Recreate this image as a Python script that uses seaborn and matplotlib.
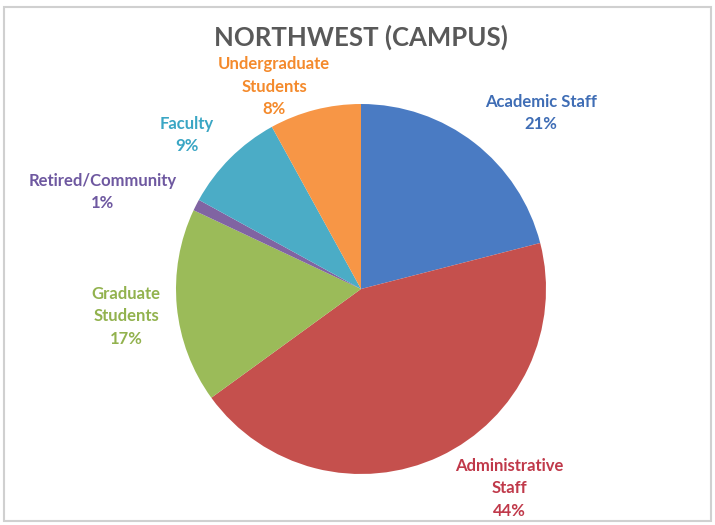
import matplotlib
matplotlib.use("Agg")
import matplotlib.pyplot as plt
import seaborn as sns
from matplotlib.patches import Rectangle

sns.set_theme(style="white")
plt.rcParams['font.family'] = ['Lato', 'DejaVu Sans']

# Data
categories = ["Academic Staff", "Administrative\nStaff", "Graduate\nStudents",
              "Retired/Community", "Faculty", "Undergraduate\nStudents"]
values = [21, 44, 17, 1, 9, 8]
pct_labels = ["21%", "44%", "17%", "1%", "9%", "8%"]
colors = ["#4A7BC3", "#C5504D", "#9BBB59", "#8064A2", "#4BACC6", "#F79646"]
label_colors = ["#3F6DB5", "#C0394A", "#92B24E", "#6E58A0", "#3AA6C4", "#F48A2C"]

# Layout: label positions (in pie radius units)
label_pos = [(0.973, 0.951), (0.80, -1.076), (-1.27, -0.146),
             (-1.395, 0.524), (-0.94, 0.832), (-0.47, 1.092)]

fig = plt.figure(figsize=(7.15, 5.25), dpi=100)
fig.patch.set_facecolor("white")

cx, cy, r = 361, 525 - 289, 185
ax = fig.add_axes([(cx - r) / 715, (cy - r) / 525, 2 * r / 715, 2 * r / 525])
ax.pie(values, colors=colors, startangle=90, counterclock=False, radius=1,
       wedgeprops=dict(edgecolor="none"))
ax.set_xlim(-1, 1)
ax.set_ylim(-1, 1)
ax.set_aspect("equal")
ax.axis("off")

for cat, pct, (lx, ly), c in zip(categories, pct_labels, label_pos, label_colors):
    ax.text(lx, ly, f"{cat}\n{pct}", ha="center", va="center", multialignment="center",
            color=c, fontsize=12, fontweight="bold", linespacing=1.5, clip_on=False)

fig.text(361 / 715, 1 - 37 / 525, "NORTHWEST (CAMPUS)", ha="center", va="center",
         fontsize=18.5, fontweight="bold", color="#595959")

fig.patches.append(Rectangle((4 / 715, 4 / 525), 707 / 715, 514 / 525, transform=fig.transFigure,
                             fill=False, edgecolor="#D0D0D0", linewidth=1.5))

fig.savefig("out.png", dpi=100, facecolor="white")
